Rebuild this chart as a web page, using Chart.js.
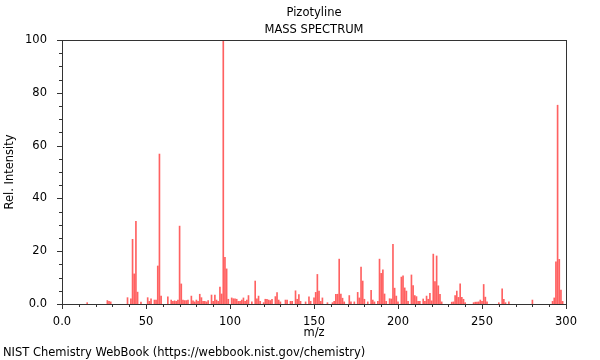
<!DOCTYPE html>
<html>
<head>
<meta charset="utf-8">
<title>Pizotyline - Mass Spectrum</title>
<script src="https://cdn.jsdelivr.net/npm/chart.js@4/dist/chart.umd.min.js"></script>
<style>
  html, body { margin: 0; padding: 0; background: #fff; }
  #wrap { width: 600px; height: 360px; position: relative; }
</style>
</head>
<body>
<div id="wrap"><canvas id="ms"></canvas></div>
<script>
/* ── data ── */
const chartTitle = 'Pizotyline';
const chartSubtitle = 'MASS SPECTRUM';
const xTitle = 'm/z';
const yTitle = 'Rel. Intensity';
const footer = 'NIST Chemistry WebBook (https://webbook.nist.gov/chemistry)';

const mz = [
  15, 27, 28, 29, 39, 41, 42, 43, 44, 45, 47, 51, 52, 53, 55, 56, 57, 58, 59,
  63, 65, 66, 67, 68, 69, 70, 71, 72, 73, 74, 75, 77, 78, 79, 80, 81, 82, 83,
  84, 85, 86, 87, 89, 90, 91, 92, 93, 94, 95, 96, 97, 98, 99, 101, 102, 103,
  104, 105, 106, 107, 108, 109, 110, 111, 113, 115, 116, 117, 118, 120, 121,
  122, 123, 124, 125, 127, 128, 129, 130, 133, 134, 136, 137, 139, 140, 141,
  142, 145, 147, 148, 150, 151, 152, 153, 154, 155, 158, 161, 162, 163, 164,
  165, 166, 167, 168, 171, 172, 174, 176, 177, 178, 179, 180, 182, 184, 185,
  186, 188, 189, 190, 191, 192, 193, 195, 196, 197, 198, 199, 200, 202, 203,
  204, 205, 206, 208, 209, 210, 211, 212, 213, 215, 216, 217, 218, 219, 220,
  221, 222, 223, 224, 225, 226, 232, 233, 234, 235, 236, 237, 238, 239, 240,
  245, 246, 247, 248, 249, 250, 251, 252, 253, 260, 262, 263, 264, 266, 280,
  292, 293, 294, 295, 296, 297, 298
];
const intensity = [
  0.5, 1.3, 1.0, 0.8, 2.4, 2.0, 24.5, 11.4, 31.3, 4.5, 0.7, 2.4, 1.0, 2.0, 1.5, 1.5, 14.4, 56.8, 3.0,
  2.7, 1.5, 1.0, 1.2, 1.0, 1.5, 29.5, 7.6, 1.5, 1.3, 1.3, 1.5, 3.0, 1.2, 0.8, 1.5, 1.0, 3.7, 2.4,
  1.0, 1.0, 0.8, 1.3, 3.4, 1.0, 3.4, 1.5, 1.0, 6.4, 3.8, 100, 17.7, 13.3, 1.8, 2.3, 2.0, 2.0,
  1.8, 1.0, 1.0, 1.5, 2.3, 1.0, 1.5, 3.2, 0.8, 8.7, 2.0, 3.0, 1.0, 0.5, 1.8,
  1.8, 1.5, 1.3, 1.8, 2.8, 4.3, 1.5, 0.8, 1.5, 1.5, 1.0, 1.0, 5.0, 1.8, 3.6,
  1.0, 0.8, 2.7, 1.0, 2.3, 4.4, 11.2, 4.9, 1.0, 2.3, 0.5, 0.5, 1.0, 3.7, 3.7,
  17.0, 3.8, 2.2, 0.8, 3.2, 0.8, 0.8, 4.4, 2.3, 14.0, 8.7, 1.8, 0.8, 5.2, 1.5,
  0.8, 1.0, 17.0, 11.6, 12.9, 3.8, 1.0, 2.0, 1.9, 22.6, 6.0, 3.0, 0.8, 10.2, 10.7,
  6.1, 4.9, 1.0, 11.0, 7.0, 3.2, 2.8, 1.0, 1.0, 1.9, 1.0, 3.0, 1.8, 4.0, 1.2,
  18.9, 8.5, 18.2, 6.9, 3.7, 0.8, 0.7, 0.8, 3.2, 4.9, 2.5, 7.6, 2.5, 1.8, 0.5,
  0.5, 0.7, 0.7, 0.8, 1.5, 1.0, 7.4, 2.6, 0.8, 0.5, 5.7, 1.8, 0.5, 0.8, 1.5,
  1.0, 2.3, 16.0, 75.3, 16.9, 5.3, 1.0
];

const xMajor = [0, 50, 100, 150, 200, 250, 300];
const yMajor = [0, 20, 40, 60, 80, 100];

/* ── styling ── */
const AXIS = '#333';
const TEXT = '#000';
const BAR = 'rgba(255, 30, 30, 0.7)';
const FONT = "'DejaVu Sans', sans-serif";
const FONT_SIZE = 11.5;

Chart.defaults.font.family = FONT;
Chart.defaults.font.size = FONT_SIZE;
Chart.defaults.color = TEXT;

/* ── frame, minor/major ticks and texts ── */
const decorations = {
  id: 'decorations',
  afterDraw(chart) {
    const { ctx, chartArea: a, scales } = chart;
    ctx.save();
    ctx.strokeStyle = AXIS;
    ctx.lineWidth = 1;
    ctx.strokeRect(Math.round(a.left) + 0.5, Math.round(a.top) + 0.5,
      Math.round(a.right - a.left), Math.round(a.bottom - a.top));

    ctx.beginPath();
    scales.x.ticks.forEach(t => {
      const px = Math.round(scales.x.getPixelForValue(t.value)) + 0.5;
      const len = xMajor.includes(t.value) ? 5 : 3;
      ctx.moveTo(px, a.bottom);
      ctx.lineTo(px, a.bottom + len);
    });
    scales.y.ticks.forEach(t => {
      const py = Math.round(scales.y.getPixelForValue(t.value)) + 0.5;
      const len = yMajor.includes(t.value) ? 5 : 3;
      ctx.moveTo(a.left, py);
      ctx.lineTo(a.left - len, py);
    });
    ctx.stroke();

    const cx = (a.left + a.right) / 2;
    ctx.fillStyle = TEXT;
    ctx.font = FONT_SIZE + 'px ' + FONT;
    ctx.textAlign = 'center';
    ctx.textBaseline = 'middle';
    ctx.fillText(chartTitle, cx, 13);
    ctx.fillText(chartSubtitle, cx, 30);
    ctx.fillText(xTitle, cx, 333);

    ctx.save();
    ctx.translate(10, (a.top + a.bottom) / 2);
    ctx.rotate(-Math.PI / 2);
    ctx.fillText(yTitle, 0, 0);
    ctx.restore();

    ctx.textAlign = 'left';
    ctx.fillText(footer, 3, 353);
    ctx.restore();
  }
};

new Chart(document.getElementById('ms'), {
  type: 'bar',
  data: {
    datasets: [{
      label: 'Rel. Intensity',
      data: mz.map((m, i) => ({ x: m, y: intensity[i] })),
      backgroundColor: BAR,
      borderWidth: 0,
      barThickness: 1,
    }],
  },
  options: {
    responsive: true,
    maintainAspectRatio: false,
    animation: false,
    layout: { padding: { left: 0, right: 34, top: 40, bottom: 20 } },
    plugins: {
      legend: { display: false },
      tooltip: { enabled: false },
    },
    scales: {
      x: {
        type: 'linear',
        min: 0,
        max: 300,
        offset: false,
        grid: { display: false },
        border: { display: true, color: AXIS },
        ticks: {
          stepSize: 10,
          autoSkip: false,
          maxRotation: 0,
          padding: 3,
          color: TEXT,
          callback: v => v === 0 ? '0.0' : (xMajor.includes(v) ? String(v) : ''),
        },
        afterFit(s) { s.height = 36; },
      },
      y: {
        min: 0,
        max: 100,
        grid: { display: false },
        border: { display: true, color: AXIS },
        ticks: {
          stepSize: 5,
          autoSkip: false,
          padding: 7,
          color: TEXT,
          callback: v => v === 0 ? '0.0' : (yMajor.includes(v) ? String(v) : ''),
        },
        afterFit(s) { s.width = 62; },
      },
    },
  },
  plugins: [decorations],
});
</script>
</body>
</html>
